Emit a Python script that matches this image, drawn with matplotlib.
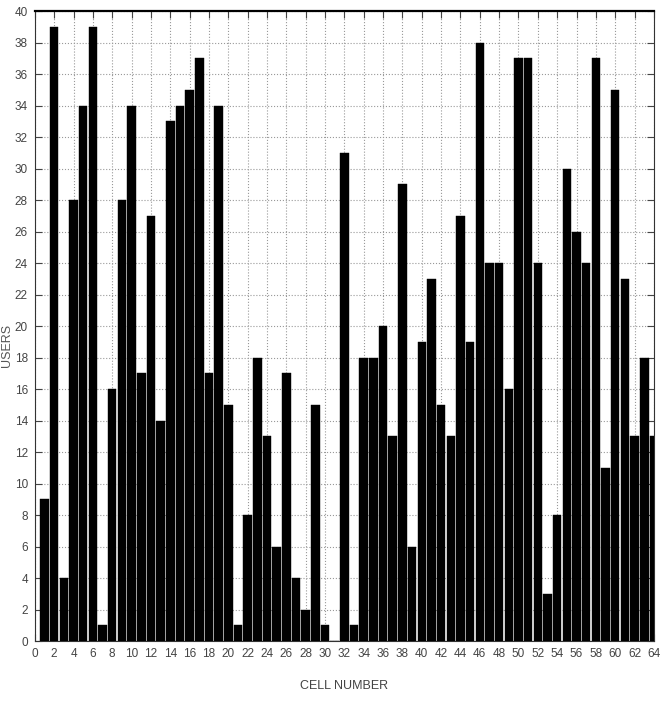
import matplotlib
matplotlib.use("Agg")
import matplotlib.pyplot as plt
import numpy as np

cells = list(range(1, 65))
users = [9, 39, 4, 28, 34, 39, 1, 16, 28, 34, 17, 27, 14, 33, 34, 35, 37, 17, 34, 15,
         1, 8, 18, 13, 6, 17, 4, 2, 15, 1, 0, 31, 1, 18, 18, 20, 13, 29, 6, 19,
         23, 15, 13, 27, 19, 38, 24, 24, 16, 37, 37, 24, 3, 8, 30, 26, 24, 37, 11, 35,
         23, 13, 18, 13]
xticks = list(range(0, 65, 2))
yticks = list(range(0, 41, 2))

plt.rcParams['font.family'] = ['Liberation Sans', 'DejaVu Sans']

fig = plt.figure(figsize=(6.7, 7.03), dpi=100)
ax = fig.add_axes([0.052, 0.088, 0.924, 0.896])
ax.bar(cells, users, width=0.88, color='black', edgecolor='black', linewidth=0.3, zorder=3)
ax.set_xlim(0, 64)
ax.set_ylim(0, 40)
ax.set_xticks(xticks)
ax.set_yticks(yticks)
ax.tick_params(direction='in', top=True, right=True, length=5, labelsize=8.5,
               colors='#444444', pad=5)
ax.grid(True, linestyle=':', color='#999999', linewidth=0.8, zorder=0)
for s in ax.spines.values():
    s.set_color('#333333')
    s.set_linewidth(0.8)
ax.spines['top'].set_linewidth(1.6)
ax.spines['top'].set_color('black')
ax.set_xlabel('CELL NUMBER', fontsize=9, color='#444444', labelpad=14)
ax.set_ylabel('USERS', fontsize=9, color='#555555')
ax.yaxis.set_label_coords(-0.036, 0.47)
fig.savefig('out.png', dpi=100)
